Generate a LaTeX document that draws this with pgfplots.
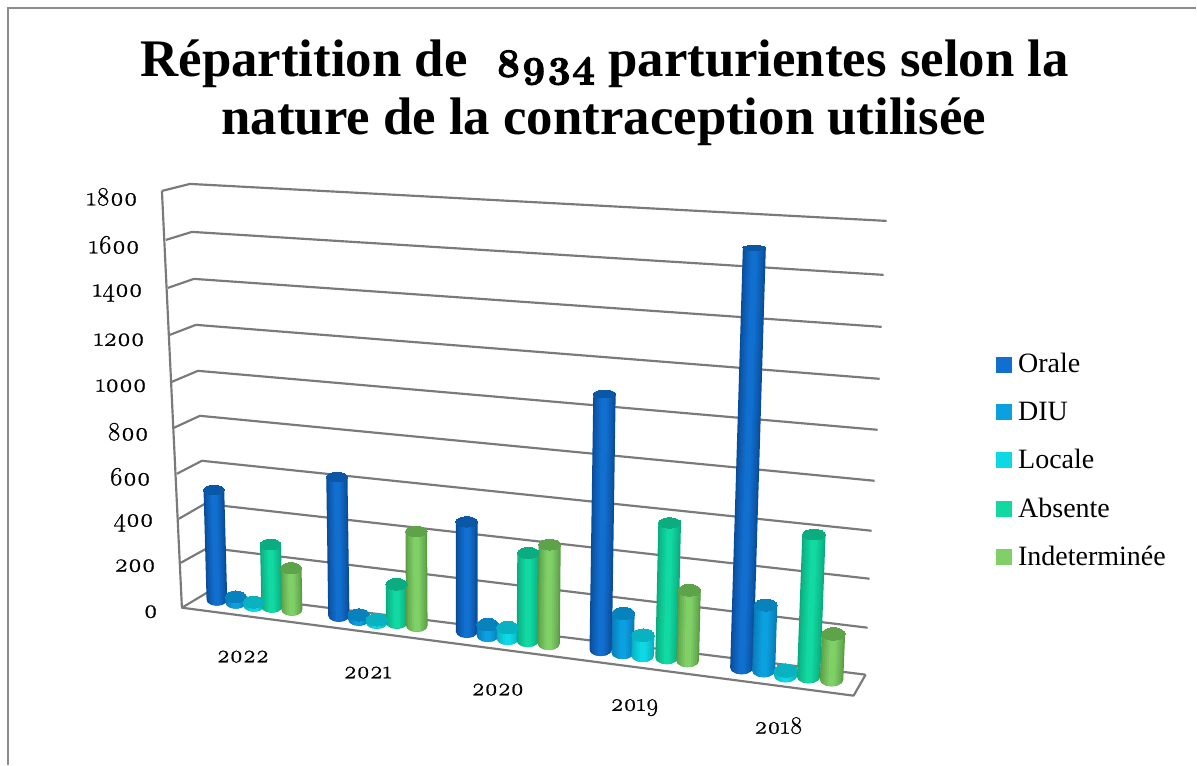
\documentclass[border=0pt]{standalone}
\usepackage{fontspec}
\setmainfont{Liberation Serif}
\newfontfamily\lmfont{Latin Modern Roman}[Numbers=OldStyle,FakeBold=0.8]
\newfontfamily\lmtitle{Latin Modern Roman}[Numbers=OldStyle,FakeBold=3]
\usepackage{pgfplots}
\usepackage{pgfplotstable}
\pgfplotsset{compat=1.18}
\definecolor{gridc}{HTML}{7A7A7A}
\definecolor{frame}{HTML}{8C8C8C}
\definecolor{oD}{HTML}{0A4A96}\definecolor{oM}{HTML}{106FCF}\definecolor{oT}{HTML}{0A57A6}
\definecolor{dD}{HTML}{0A78B4}\definecolor{dM}{HTML}{0BA0E0}\definecolor{dT}{HTML}{0882BC}
\definecolor{lD}{HTML}{08AEBC}\definecolor{lM}{HTML}{0DD8E6}\definecolor{lT}{HTML}{08B2C0}
\definecolor{aD}{HTML}{0AA87C}\definecolor{aM}{HTML}{12D8A2}\definecolor{aT}{HTML}{0AAC80}
\definecolor{iD}{HTML}{589A44}\definecolor{iM}{HTML}{80D068}\definecolor{iT}{HTML}{5EA24A}
% px = base of the bar on the picture's floor, base = its y on the picture, val = value
\pgfplotstableread{
year px  base val
2022 217 600 472
2021 339 616 584
2020 467 632 453
2019 601 650 1032
2018 742 668 1657
}\orale
\pgfplotstableread{
year px  base val
2022 236 603 25
2021 359 620 20
2020 488 636 45
2019 623 653 158
2018 764 671 258
}\diu
\pgfplotstableread{
year px  base val
2022 254 606 15
2021 377 623 12
2020 508 639 45
2019 643 656 82
2018 786 676 20
}\locale
\pgfplotstableread{
year px  base val
2022 272 607 265
2021 397 623 160
2020 528 641 358
2019 667 658 538
2018 809 677 555
}\absente
\pgfplotstableread{
year px  base val
2022 292 610 176
2021 417 626 392
2020 549 644 403
2019 688 661 280
2018 832 680 178
}\indet
\newcommand\cylseries[4]{%
 \foreach \i in {0,...,4}{%
  \pgfplotstablegetelem{\i}{px}\of{#1}\let\bx\pgfplotsretval
  \pgfplotstablegetelem{\i}{base}\of{#1}\let\by\pgfplotsretval
  \pgfplotstablegetelem{\i}{val}\of{#1}\let\val\pgfplotsretval
  \pgfmathsetmacro\k{.232+(\bx-200)/680*.027}%
  \pgfmathsetmacro\h{\val*\k}%
  \pgfmathsetmacro\ty{\by-\h}%
  \pgfmathsetmacro\tx{\bx+\h/100*(\bx-467)/100*1.1}%
  \pgfmathsetmacro\hw{10.3+(\bx-200)/100*.22}%
  \pgfmathsetmacro\bt{2.5+(\ty-250)*.01}%
  \pgfmathsetmacro\bb{2.5+(\by-250)*.01}%
  \pgfmathsetmacro\xa{\tx-\hw}\pgfmathsetmacro\xb{\tx+\hw}%
  \pgfmathsetmacro\xc{\bx+\hw}\pgfmathsetmacro\xd{\bx-\hw}%
  \pgfmathsetmacro\xe{\bx+.87*\hw}\pgfmathsetmacro\ye{\by+.5*\bb}%
  \pgfmathsetmacro\xf{\bx+.5*\hw}\pgfmathsetmacro\yf{\by+.87*\bb}%
  \pgfmathsetmacro\yg{\by+\bb}%
  \pgfmathsetmacro\xh{\bx-.5*\hw}\pgfmathsetmacro\xi{\bx-.87*\hw}%
  \pgfmathsetmacro\ms{\hw*0.6}\pgfmathsetmacro\ys{\bt/\hw}%
  \edef\temp{\noexpand\addplot[forget plot,draw=none,fill=#2]
    coordinates {(\xa,\ty)(\xb,\ty)(\xc,\by)(\xe,\ye)(\xf,\yf)(\bx,\yg)(\xh,\yf)(\xi,\ye)(\xd,\by)} --cycle;}\temp
  \foreach \f/\s/\p in {.92/.39/20,.80/.60/40,.64/.77/60,.46/.89/80,.28/.96/100}{%
   \pgfmathsetmacro\sa{\tx-\f*\hw}\pgfmathsetmacro\sb{\tx+\f*\hw}%
   \pgfmathsetmacro\sc{\bx+\f*\hw}\pgfmathsetmacro\sd{\bx-\f*\hw}%
   \pgfmathsetmacro\se{\by+\s*\bb}%
   \edef\temp{\noexpand\addplot[forget plot,draw=none,fill=#3!\p!#2]
     coordinates {(\sa,\ty)(\sb,\ty)(\sc,\se)(\sd,\se)} --cycle;}\temp
  }%
  \edef\temp{\noexpand\addplot[forget plot,only marks,mark=*,mark size=\ms pt,mark options={draw=#4,line width=0pt,fill=#4,yscale=\ys}]
    coordinates {(\tx,\ty)};}\temp
 }}
\newcommand\gridln[6]{\addplot[forget plot,gridc,line width=1.3pt,line join=round] coordinates {(#1,#2)(#3,#4)(#5,#6)};}
\newcommand\ticklab[3]{\node[anchor=east,inner sep=0pt,font=\fontsize{15.8}{15.8}\selectfont\lmfont] at (axis cs:#1,#2) {#3};}
\newcommand\yearlab[3]{\node[inner sep=0pt,font=\fontsize{15}{15}\selectfont\lmfont] at (axis cs:#1,#2) {#3};}
\begin{document}
\begin{tikzpicture}
\begin{axis}[
  width=718.2pt,height=459pt,scale only axis,
  xmin=0,xmax=1197,ymin=0,ymax=765,y dir=reverse,
  hide axis,clip=false,
  legend style={at={(axis cs:996,350)},anchor=north west,draw=none,fill=none,
    font=\fontsize{16.8}{16.8}\selectfont,row sep=11.9pt,inner sep=0pt,
    legend cell align=left,/tikz/every even column/.append style={column sep=3pt},
    /tikz/every odd column/.append style={column sep=2pt}},
  legend image code/.code={\fill[#1] (0pt,-4.5pt) rectangle (9pt,4.5pt);},
]
\path (axis cs:0,0) rectangle (axis cs:1197,765);
\addplot[forget plot,frame,line width=0.7pt] coordinates {(8,765)(8,8)(1197,8)};
\gridln{162}{191}{190}{184}{887}{221}
\gridln{166}{240}{192}{232}{884}{275}
\gridln{168}{288}{194}{279}{882}{327}
\gridln{170}{335}{196}{325}{880}{379}
\gridln{172}{382}{198}{371}{878}{430}
\gridln{174}{428}{200}{416}{875}{481}
\gridln{177}{474}{202}{461}{872}{531}
\gridln{179}{519}{205}{504}{870}{579}
\gridln{181}{563}{208}{548}{868}{628}
\gridln{182}{608}{207}{593}{866}{675}
\addplot[forget plot,gridc,line width=1.3pt,line join=round] coordinates {(162,191)(182,608)(854,696)(866,675)};
\cylseries{\orale}{oD}{oM}{oT}
\cylseries{\diu}{dD}{dM}{dT}
\cylseries{\locale}{lD}{lM}{lT}
\cylseries{\absente}{aD}{aM}{aT}
\cylseries{\indet}{iD}{iM}{iT}
\addlegendimage{oM}\addlegendentry{Orale}
\addlegendimage{dM}\addlegendentry{DIU}
\addlegendimage{lM}\addlegendentry{Locale}
\addlegendimage{aM}\addlegendentry{Absente}
\addlegendimage{iM}\addlegendentry{Indeterminée}
\node[inner sep=0pt,font=\fontsize{31.7}{31.7}\selectfont\bfseries] at (axis cs:605,64) {Répartition de\ {\fontsize{24}{24}\selectfont\lmtitle\ 8934} parturientes selon la};
\node[inner sep=0pt,font=\fontsize{31.7}{31.7}\selectfont\bfseries] at (axis cs:604,122) {nature de la contraception utilisée};
\ticklab{138}{197}{1800}\ticklab{140}{245}{1600}\ticklab{143}{293}{1400}\ticklab{145}{340}{1200}
\ticklab{147}{386}{1000}\ticklab{149}{432}{800}\ticklab{151}{477}{600}\ticklab{154}{523}{400}
\ticklab{156}{566}{200}\ticklab{158}{612}{0}
\yearlab{243}{657}{2022}\yearlab{368}{673}{2021}\yearlab{498}{690}{2020}\yearlab{635}{708}{2019}\yearlab{779}{726}{2018}
\end{axis}
\end{tikzpicture}
\end{document}
